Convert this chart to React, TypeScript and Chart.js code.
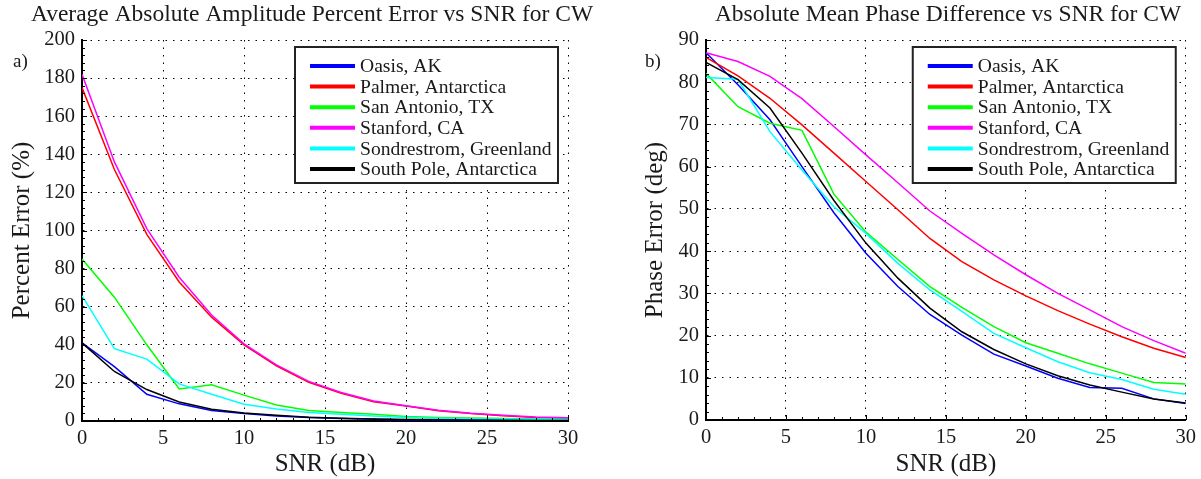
import React, { useEffect, useRef } from "react";
import { Chart, registerables } from "chart.js";

Chart.register(...registerables);

// ---------- DATA ----------
const snrValues = [0, 2, 4, 6, 8, 10, 12, 14, 16, 18, 20, 22, 24, 26, 28, 30];

const stationNames = [
  "Oasis, AK",
  "Palmer, Antarctica",
  "San Antonio, TX",
  "Stanford, CA",
  "Sondrestrom, Greenland",
  "South Pole, Antarctica",
];
const stationColors = ["#0000ff", "#ff0000", "#00ff00", "#ff00ff", "#00ffff", "#000000"];

// Panel a) Average absolute amplitude percent error (%)
const oasisAmp = [41, 28.5, 14, 9, 5.5, 4, 2.6, 1.8, 1.3, 0.9, 0.7, 0.5, 0.4, 0.3, 0.3, 0.2];
const palmerAmp = [175, 132, 98, 73, 54.5, 40, 29, 20.3, 14.5, 10.1, 7.9, 5.4, 3.9, 2.8, 1.9, 1.4];
const sanAntonioAmp = [85, 65, 40, 16.8, 19, 13.6, 8.4, 5.5, 4.5, 3.5, 2.4, 1.9, 1.6, 1.3, 1.1, 0.9];
const stanfordAmp = [182, 136, 101, 75.5, 55.6, 40.5, 29.5, 20.8, 15, 10.5, 8, 5.6, 4.1, 3, 2.1, 1.7];
const sondrestromAmp = [65.8, 38, 32.5, 19.5, 14, 8.8, 6.3, 4.5, 3.5, 2.6, 1.9, 1.5, 1.2, 1, 0.9, 0.8];
const southPoleAmp = [41, 26, 16.5, 10, 6.2, 4.2, 3, 2, 1.4, 1, 0.8, 0.6, 0.5, 0.4, 0.3, 0.3];

// Panel b) Absolute mean phase difference (deg)
const oasisPhase = [87, 79.4, 71.1, 60, 49.1, 39.5, 31.6, 25, 20.1, 15.6, 12.8, 9.9, 7.7, 7.5, 5, 3.9];
const palmerPhase = [85.9, 81.5, 76.2, 69.9, 63.2, 56.5, 49.8, 43, 37.5, 33.2, 29.4, 25.9, 22.7, 19.7, 17, 14.8];
const sanAntonioPhase = [82.1, 74.2, 70.3, 68.6, 53.5, 44.5, 38, 31.6, 26.7, 22.1, 18.3, 15.8, 13.3, 11.1, 8.9, 8.5];
const stanfordPhase = [87, 84.9, 81.4, 76.1, 69.5, 62.8, 56.2, 49.5, 44.2, 39.1, 34.4, 30, 26.1, 22.1, 18.8, 15.8];
const sondrestromPhase = [81.1, 80.7, 68.3, 59.2, 50.5, 44.2, 37.1, 30.8, 25.7, 20.5, 17.1, 13.8, 11.2, 9.6, 7.3, 6.1];
const southPolePhase = [84.7, 80.6, 73.9, 63.2, 52, 41.9, 33.6, 26.5, 20.9, 16.7, 13.3, 10.5, 8.3, 6.6, 5, 4];

const ampSeries = [oasisAmp, palmerAmp, sanAntonioAmp, stanfordAmp, sondrestromAmp, southPoleAmp];
const phaseSeries = [oasisPhase, palmerPhase, sanAntonioPhase, stanfordPhase, sondrestromPhase, southPolePhase];

const xMin = 0;
const xMax = 30;
const xStep = 5;

const FONT = '"Liberation Serif", "Times New Roman", serif';
const TEXT = "#1a1a1a";

// ---------- decoration plugin: inward ticks, title, panel tag, legend ----------
const decorPlugin = {
  id: "decor",
  afterDraw(chart: any, _args: any, opts: any) {
    const { ctx, chartArea } = chart;
    const { left, right, top, bottom } = chartArea;
    const xs = chart.scales.x;
    const ys = chart.scales.y;
    ctx.save();
    ctx.strokeStyle = "#000";
    ctx.lineWidth = 1;
    // x ticks (inward)
    for (let v = xs.min; v <= xs.max + 1e-9; v += 1) {
      const px = Math.round(xs.getPixelForValue(v)) + 0.5;
      const len = v % xStep === 0 ? 5 : 3;
      ctx.beginPath();
      ctx.moveTo(px, bottom);
      ctx.lineTo(px, bottom - len);
      ctx.stroke();
    }
    // y ticks (inward)
    const yMinor = opts.yMinor;
    const yMajor = opts.yMajor;
    for (let v = ys.min; v <= ys.max + 1e-9; v += yMinor) {
      const py = Math.round(ys.getPixelForValue(v)) + 0.5;
      const isMajor = Math.abs(v / yMajor - Math.round(v / yMajor)) < 1e-6;
      const len = isMajor ? 5 : 3;
      ctx.beginPath();
      ctx.moveTo(left, py);
      ctx.lineTo(left + len, py);
      ctx.stroke();
    }
    // title
    ctx.fillStyle = TEXT;
    ctx.font = `23.5px ${FONT}`;
    ctx.textAlign = "center";
    ctx.textBaseline = "middle";
    ctx.fillText(opts.title, opts.titleX, 15);
    // panel tag
    ctx.font = `19px ${FONT}`;
    ctx.textAlign = "left";
    ctx.fillText(opts.panel, opts.panelX, 62);

    // legend
    const W = 263;
    const H = 136;
    const L = right - 10 - W;
    const T = top + 7;
    ctx.fillStyle = "#ffffff";
    ctx.fillRect(L, T, W, H);
    ctx.strokeStyle = "#222";
    ctx.lineWidth = 2;
    ctx.strokeRect(L, T, W, H);
    const rowH = 20.6;
    chart.data.datasets.forEach((ds: any, i: number) => {
      const cy = T + 19 + i * rowH;
      ctx.strokeStyle = ds.borderColor;
      ctx.lineWidth = 4;
      ctx.beginPath();
      ctx.moveTo(L + 15, cy);
      ctx.lineTo(L + 60, cy);
      ctx.stroke();
      ctx.fillStyle = TEXT;
      ctx.font = `19.6px ${FONT}`;
      ctx.textAlign = "left";
      ctx.textBaseline = "middle";
      ctx.fillText(ds.label, L + 65, cy + 1);
    });
    ctx.restore();
  },
};

function buildConfig(p: {
  series: number[][];
  yMax: number;
  yStep: number;
  yMinor: number;
  yTitle: string;
  yAxisWidth: number;
  yTitlePad: number;
  padRight: number;
  xAxisHeight: number;
  title: string;
  titleX: number;
  panel: string;
  panelX: number;
}): any {
  return {
    type: "line",
    data: {
      datasets: p.series.map((vals, i) => ({
        label: stationNames[i],
        data: vals.map((v, j) => ({ x: snrValues[j], y: v })),
        borderColor: stationColors[i],
        backgroundColor: stationColors[i],
        borderWidth: 1.5,
        pointRadius: 0,
        tension: 0,
        fill: false,
        order: p.series.length - i,
      })),
    },
    options: {
      responsive: false,
      animation: false,
      devicePixelRatio: 1,
      layout: { padding: { left: 0, right: p.padRight, top: 40, bottom: 0 } },
      plugins: {
        legend: { display: false },
        tooltip: { enabled: false },
        title: { display: false },
        decor: {
          title: p.title,
          titleX: p.titleX,
          panel: p.panel,
          panelX: p.panelX,
          yMinor: p.yMinor,
          yMajor: p.yStep,
        },
      },
      scales: {
        x: {
          type: "linear",
          min: xMin,
          max: xMax,
          ticks: {
            stepSize: xStep,
            font: { family: FONT, size: 20.5 },
            color: TEXT,
            padding: 5,
            maxRotation: 0,
          },
          grid: { color: "#000", lineWidth: 1, drawTicks: false },
          border: { display: true, color: "#000", width: 2, dash: [1.5, 6] },
          title: {
            display: true,
            text: "SNR (dB)",
            font: { family: FONT, size: 25 },
            color: TEXT,
            padding: { top: 1, bottom: 0 },
          },
          afterFit: (s: any) => {
            s.height = p.xAxisHeight;
          },
        },
        y: {
          type: "linear",
          min: 0,
          max: p.yMax,
          ticks: {
            stepSize: p.yStep,
            font: { family: FONT, size: 20.5 },
            color: TEXT,
            padding: 7,
          },
          grid: { color: "#000", lineWidth: 1, drawTicks: false },
          border: { display: true, color: "#000", width: 2, dash: [1.5, 6] },
          title: {
            display: true,
            text: p.yTitle,
            font: { family: FONT, size: 25 },
            color: TEXT,
            padding: { top: p.yTitlePad, bottom: 0 },
          },
          afterFit: (s: any) => {
            s.width = p.yAxisWidth;
          },
        },
      },
    },
    plugins: [decorPlugin],
  };
}

export default function App() {
  const leftRef = useRef<HTMLCanvasElement | null>(null);
  const rightRef = useRef<HTMLCanvasElement | null>(null);

  useEffect(() => {
    const left = new Chart(
      leftRef.current as HTMLCanvasElement,
      buildConfig({
        series: ampSeries,
        yMax: 200,
        yStep: 20,
        yMinor: 4,
        yTitle: "Percent Error (%)",
        yAxisWidth: 82,
        yTitlePad: 7,
        padRight: 32,
        xAxisHeight: 58,
        title: "Average Absolute Amplitude Percent Error vs SNR for CW",
        titleX: 312,
        panel: "a)",
        panelX: 13,
      })
    );
    const right = new Chart(
      rightRef.current as HTMLCanvasElement,
      buildConfig({
        series: phaseSeries,
        yMax: 90,
        yStep: 10,
        yMinor: 2,
        yTitle: "Phase Error (deg)",
        yAxisWidth: 106,
        yTitlePad: 40,
        padRight: 12,
        xAxisHeight: 59,
        title: "Absolute Mean Phase Difference vs SNR for CW",
        titleX: 348,
        panel: "b)",
        panelX: 45,
      })
    );
    return () => {
      left.destroy();
      right.destroy();
    };
  }, []);

  return (
    <div
      style={{
        position: "absolute",
        left: 0,
        top: 0,
        width: 1201,
        height: 479,
        background: "#ffffff",
        overflow: "hidden",
      }}
    >
      <canvas
        ref={leftRef}
        width={600}
        height={479}
        style={{ position: "absolute", left: 0, top: 0, width: 600, height: 479 }}
      />
      <canvas
        ref={rightRef}
        width={601}
        height={479}
        style={{ position: "absolute", left: 600, top: 0, width: 601, height: 479 }}
      />
    </div>
  );
}
